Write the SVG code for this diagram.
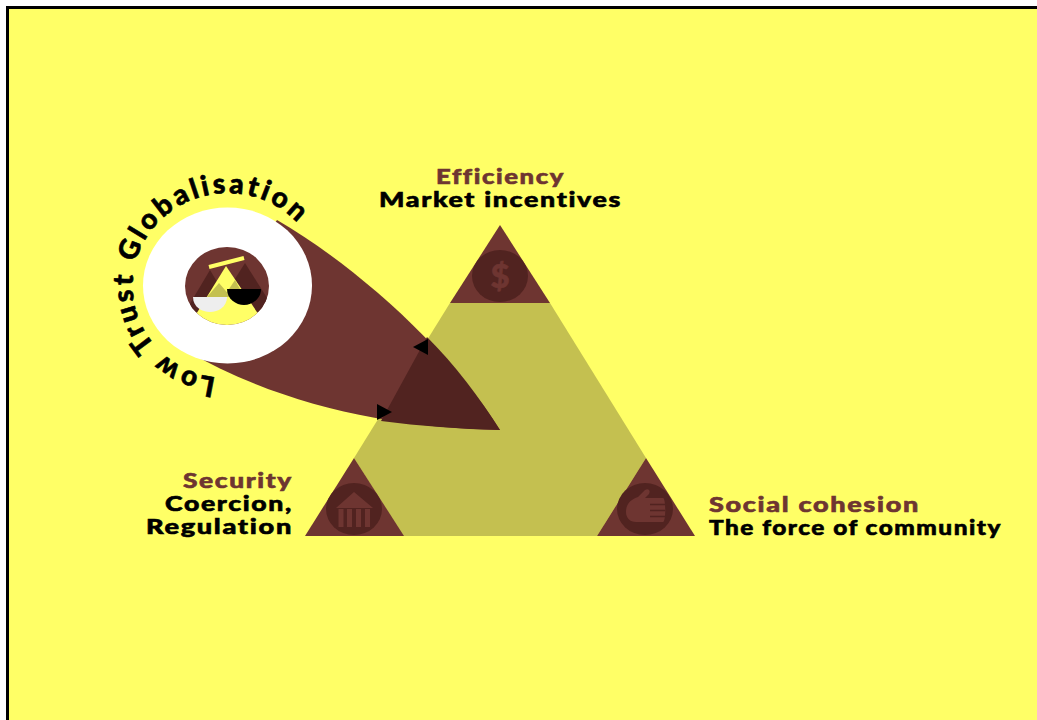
<svg xmlns="http://www.w3.org/2000/svg" width="1037" height="720" viewBox="0 0 1037 720">
<style>
text{font-family:"Lato","Liberation Sans",sans-serif;font-weight:900;font-size:21px;letter-spacing:1.300px;stroke-width:.6px;font-variant-ligatures:none}
.b{fill:#6e3531}.d{fill:#512320}.k{fill:#c4c050}.y{fill:#ffff66}
.t1{fill:#6e3531;stroke:#6e3531}.t2{fill:#000;stroke:#000}
</style>
<defs>
<clipPath id="mini"><ellipse cx="227" cy="286" rx="42" ry="39"/></clipPath>
<path id="ring" d="M216 377.500 A95 92.500 0 1 1 322 275"/>
</defs>
<rect x="0" y="0" width="1037" height="720" fill="#fff"/>
<rect x="7.500" y="7.500" width="1060" height="750" fill="#ffff66" stroke="#000" stroke-width="3"/>
<g id="triangle">
<polygon class="k" points="450,303 550,303 646,458 597,536 403,536 354,458"/>
</g>
<g id="node-efficiency">
<polygon class="b" points="500,225 550,303 450,303"/>
<ellipse class="d" cx="500" cy="276" rx="28" ry="26"/>
<text x="500" y="288" text-anchor="middle" class="t1" style="font-size:33px;letter-spacing:0">$</text>
<text x="436" y="183.500" class="t1" textLength="129" lengthAdjust="spacingAndGlyphs">Efficiency</text>
<text x="379" y="206.500" class="t2" textLength="243" lengthAdjust="spacingAndGlyphs">Market incentives</text>
</g>
<g id="node-security">
<polygon class="b" points="354,458 404,536 305,536"/>
<ellipse class="d" cx="354" cy="509" rx="28" ry="26"/>
<polygon class="b" points="354,492 373,508 336,508"/>
<rect class="b" x="338.500" y="509" width="5" height="18"/><rect class="b" x="347" y="509" width="5" height="18"/><rect class="b" x="356" y="509" width="5" height="18"/><rect class="b" x="365" y="509" width="5" height="18"/>
<text x="183" y="487.500" class="t1" textLength="110" lengthAdjust="spacingAndGlyphs">Security</text>
<text x="165" y="510.500" class="t2" textLength="128" lengthAdjust="spacingAndGlyphs">Coercion,</text>
<text x="146" y="533.500" class="t2" textLength="147" lengthAdjust="spacingAndGlyphs">Regulation</text>
</g>
<g id="node-social">
<polygon class="b" points="646,458 695,536 597,536"/>
<ellipse class="d" cx="645" cy="509" rx="28" ry="26"/>
<path class="b" d="M626 512 C626 503 632 499 638 497 L645 490 C648 488 651 490 649 494 L645 498 H663 C666 498 666 522 663 522 H636 C630 522 626 518 626 512Z"/>
<path d="M650 504.500H665M650 510.500H665M650 516.500H665" stroke="#512320" stroke-width="1.500" fill="none"/>
<text x="709" y="511.500" class="t1" textLength="211" lengthAdjust="spacingAndGlyphs">Social cohesion</text>
<text x="709" y="534.500" class="t2" textLength="293" lengthAdjust="spacingAndGlyphs">The force of community</text>
</g>
<g id="connectors">
<path class="b" d="M277 220 C355 265 450 350 500 430 C390 428 280 405 185 350Z"/>
<path class="d" d="M427 337 C455 365 480 398 500 430 C460 429 420 426 381 421Z"/>
<polygon points="413,347 428,339 428,355"/>
<polygon points="392,412 377,404 377,420"/>
</g>
<g id="node-low-trust">
<ellipse cx="227.500" cy="285.500" rx="84.500" ry="78" fill="#fff"/>
<g clip-path="url(#mini)">
<rect class="b" x="180" y="240" width="95" height="95"/>
<polygon class="d" points="210,270 185,312 235,312"/>
<polygon class="d" points="245,263 214,312 276,312"/>
<polygon class="y" points="226,266 190,324 190,340 265,340 265,324"/>
<polygon class="k" points="219,283 207,297 231,297"/>
<polygon class="k" points="235,280 229,289 240,289"/>
</g>
<path d="M209 267 L244 258" stroke="#ffff66" stroke-width="4" fill="none"/>
<path d="M193 297 H227 C227 307 218 312 210 312 C202 312 193 307 193 297Z" fill="#eeeeee"/>
<path d="M227 289 H261 C261 299 252 305 244 305 C236 305 227 299 227 289Z" fill="#000"/>
<text class="t2" style="font-size:28px;letter-spacing:0" textLength="360"><textPath href="#ring">Low Trust Globalisation</textPath></text>
</g>
</svg>
